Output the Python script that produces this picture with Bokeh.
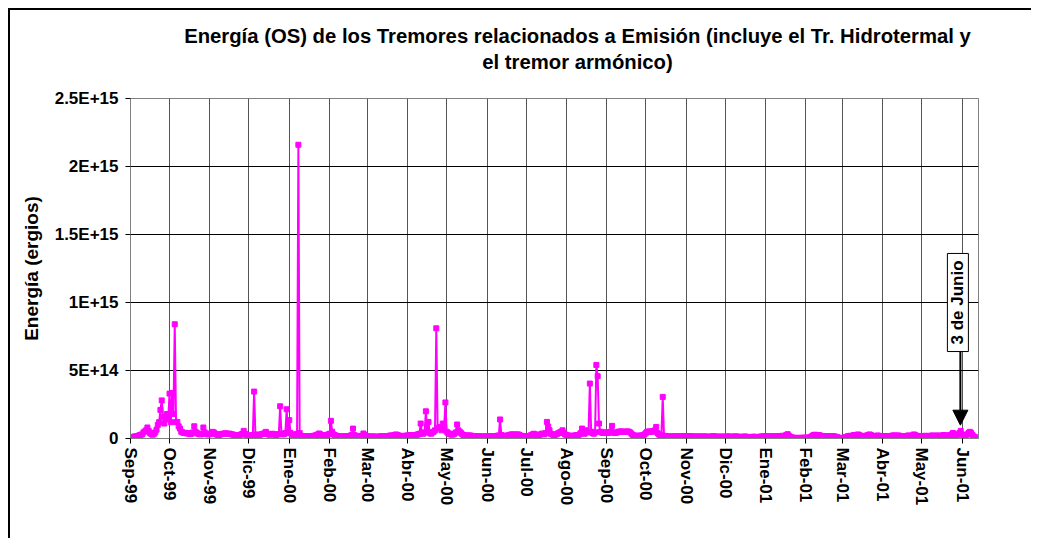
import pandas as pd
from bokeh.plotting import figure
from bokeh.layouts import column
from bokeh.models import Range1d, FixedTicker, Label, Arrow, NormalHead
from bokeh.embed import file_html
from bokeh.resources import INLINE

# ---------------- data (energy in units of 1E13 ergios, one value per day) ----------------
start_date = "1999-09-01"
sep_99 = [1.0, 1.2, 1.1, 1.4, 1.5, 1.8, 2.0, 2.4, 2.8, 3.0,
          4.5, 5.2, 6.0, 8.1, 5.5, 4.0, 3.2, 2.8, 3.5, 4.5,
          6.5, 10, 12, 21, 28, 16, 11, 14, 18, 15]
oct_99 = [33, 12, 33.5, 18, 84, 12, 12.2, 9, 7.3, 5,
          4.5, 4.0, 4.2, 3.8, 4.0, 3.5, 3.2, 3.6, 4.5, 9.0,
          5.0, 4.0, 3.5, 3.2, 3.0, 3.5, 8.1, 4.5, 3.5, 3.2, 3.0]
nov_99 = [3.2, 3.8, 4.9, 4.5, 3.5, 3.0, 2.8, 2.6, 3.0, 3.2,
          3.5, 3.6, 3.8, 3.5, 3.4, 3.6, 3.2, 3.0, 2.8, 2.5,
          2.2, 2.0, 2.2, 2.5, 3.0, 3.5, 5.6, 3.5, 2.5, 2.2]
dic_99 = [2.0, 2.2, 2.0, 2.5, 34.5, 3.0, 2.5, 2.2, 2.5, 3.0,
          3.2, 3.5, 3.8, 4.9, 3.5, 3.0, 2.8, 3.2, 3.5, 3.0,
          2.8, 2.5, 3.0, 3.2, 23.7, 3.5, 3.0, 3.2, 4.0, 21.5, 5.0]
ene_00 = [13.5, 4.0, 3.0, 2.5, 2.2, 2.5, 3.5, 216, 4.0, 2.0,
          1.5, 1.4, 1.5, 1.6, 1.5, 1.4, 1.5, 1.6, 1.8, 2.0,
          2.2, 2.5, 3.0, 3.7, 3.0, 2.5, 2.0, 1.8, 2.0, 2.5, 3.0]
feb_00 = [3.5, 13, 5.0, 3.0, 2.5, 2.0, 1.8, 1.6, 1.5, 1.5,
          1.6, 1.5, 1.4, 1.5, 1.6, 1.8, 2.0, 2.5, 7.3, 2.5,
          2.0, 1.8, 1.6, 1.5, 1.6, 2.0, 3.7, 2.5, 1.8]
mar_00 = [1.5, 1.4, 1.3, 1.4, 1.5, 1.4, 1.3, 1.2, 1.3, 1.4,
          1.5, 1.6, 1.5, 1.4, 1.5, 1.6, 1.8, 2.0, 2.2, 2.0,
          2.2, 2.5, 3.0, 2.5, 2.2, 2.0, 1.8, 1.6, 1.8, 2.0, 2.0]
abr_00 = [2.2, 2.2, 2.5, 2.2, 2.0, 2.2, 2.5, 2.8, 3.0, 3.5,
          11, 4.0, 3.5, 4.5, 20, 5.0, 12.2, 4.0, 3.5, 4.5,
          5.0, 6.0, 81, 7.3, 8.0, 8.5, 6.0, 11, 8.0, 26.5]
may_00 = [5.0, 4.0, 3.5, 3.0, 2.8, 3.0, 3.5, 4.5, 10.3, 6.0,
          5.0, 4.0, 3.0, 2.5, 2.2, 2.2, 2.0, 2.2, 2.2, 2.0,
          1.8, 1.6, 1.5, 1.5, 1.6, 1.5, 1.4, 1.5, 1.5, 1.4, 1.5]
jun_00 = [1.5, 1.4, 1.5, 1.6, 1.5, 1.4, 1.6, 1.8, 2.0, 2.2,
          14, 2.5, 2.0, 1.8, 1.8, 2.0, 2.2, 2.5, 2.8, 3.0,
          3.0, 2.8, 2.5, 3.0, 3.0, 2.5, 2.0, 1.8, 1.6, 1.5]
jul_00 = [1.5, 1.6, 1.8, 2.0, 2.5, 3.0, 3.5, 3.0, 2.5, 2.2,
          2.5, 3.0, 3.5, 3.5, 3.0, 4.0, 12.2, 8.8, 6.0, 3.5,
          3.0, 2.5, 2.5, 3.0, 3.5, 4.0, 4.5, 5.0, 6.0, 4.0, 3.0]
ago_00 = [2.5, 2.2, 2.0, 2.0, 1.8, 2.0, 2.0, 2.2, 2.5, 2.5,
          3.0, 4.0, 7.3, 4.0, 3.5, 6.0, 5.0, 4.5, 40.4, 5.0,
          4.0, 3.5, 4.5, 54.1, 45.8, 11, 5.0, 4.5, 4.0, 4.2, 4.5]
sep_00 = [4.5, 4.0, 4.5, 5.0, 9.3, 4.5, 4.0, 4.2, 4.5, 5.0,
          5.0, 5.2, 5.0, 5.0, 4.8, 5.0, 5.2, 5.0, 4.5, 3.5,
          2.5, 2.2, 2.0, 2.0, 1.8, 2.0, 2.2, 2.0, 2.5, 3.0]
oct_00 = [4.0, 5.0, 5.0, 5.2, 5.0, 5.0, 5.5, 6.0, 8.5, 4.0,
          3.0, 2.5, 2.0, 30.6, 2.0, 1.8, 1.6, 1.5, 1.5, 1.4,
          1.5, 1.4, 1.5, 1.6, 1.5, 1.4, 1.5, 1.5, 1.6, 1.5, 1.5]
nov_00 = [1.6, 1.8, 1.8, 1.6, 1.5, 1.4, 1.5, 1.4, 1.3, 1.4,
          1.5, 1.4, 1.3, 1.4, 1.5, 1.4, 1.3, 1.2, 1.3, 1.4,
          1.5, 1.6, 1.5, 1.4, 1.3, 1.2, 1.3, 1.4, 1.3, 1.2]
dic_00 = [1.3, 1.4, 1.5, 1.4, 1.3, 1.2, 1.3, 1.4, 1.5, 1.4,
          1.3, 1.2, 1.1, 1.2, 1.3, 1.4, 1.3, 1.2, 1.1, 1.0,
          1.1, 1.2, 1.3, 1.2, 1.1, 1.0, 1.2, 1.3, 1.4, 1.5, 1.6]
ene_01 = [1.5, 1.6, 1.5, 1.4, 1.5, 1.6, 1.5, 1.4, 1.5, 1.6,
          1.5, 1.6, 1.8, 2.0, 1.8, 2.0, 2.5, 3.2, 2.0, 1.2,
          0.8, 0.6, 0.5, 0.4, 0.4, 0.5, 0.4, 0.4, 0.5, 0.5, 0.6]
feb_01 = [0.5, 0.5, 0.6, 0.8, 1.2, 2.0, 2.5, 2.8, 2.5, 2.4,
          2.5, 2.2, 1.8, 1.6, 1.5, 1.6, 1.8, 1.6, 1.5, 1.6,
          1.8, 1.6, 1.5, 1.3, 1.0, 0.6, 0.4, 0.3]
mar_01 = [0.3, 0.4, 0.8, 1.2, 1.5, 1.8, 2.0, 1.8, 2.0, 2.5,
          2.5, 2.2, 3.0, 2.5, 2.0, 1.8, 1.6, 1.8, 2.0, 2.2,
          2.5, 3.0, 2.5, 2.0, 1.8, 1.6, 1.8, 2.2, 2.0, 1.8, 1.6]
abr_01 = [1.5, 1.6, 1.8, 1.6, 1.5, 1.6, 1.8, 2.0, 2.2, 2.2,
          2.0, 2.0, 2.2, 2.0, 1.8, 1.6, 1.5, 1.6, 1.8, 2.0,
          2.2, 2.0, 1.8, 2.2, 3.0, 2.5, 2.0, 1.8, 1.6, 1.5]
may_01 = [1.5, 1.6, 1.8, 2.0, 1.8, 1.6, 1.8, 2.0, 2.2, 2.0,
          1.8, 2.0, 2.2, 2.0, 1.8, 2.0, 2.2, 2.5, 2.2, 2.0,
          2.0, 2.2, 2.5, 3.0, 4.1, 2.5, 2.0, 2.5, 3.0, 4.0, 5.6]
jun_01 = [3.0, 2.5, 2.0, 2.5, 3.0, 4.0, 4.9, 4.0, 2.5, 1.5, 1.0]

energy_1e13 = (sep_99 + oct_99 + nov_99 + dic_99 + ene_00 + feb_00 + mar_00 + abr_00 +
               may_00 + jun_00 + jul_00 + ago_00 + sep_00 + oct_00 + nov_00 + dic_00 +
               ene_01 + feb_01 + mar_01 + abr_01 + may_01 + jun_01)

month_labels = ["Sep-99", "Oct-99", "Nov-99", "Dic-99", "Ene-00", "Feb-00", "Mar-00",
                "Abr-00", "May-00", "Jun-00", "Jul-00", "Ago-00", "Sep-00", "Oct-00",
                "Nov-00", "Dic-00", "Ene-01", "Feb-01", "Mar-01", "Abr-01", "May-01",
                "Jun-01"]
y_tick_values = [0, 50, 100, 150, 200, 250]          # in units of 1E13
y_tick_labels = ["0", "5E+14", "1E+15", "1.5E+15", "2E+15", "2.5E+15"]

title_lines = ["Energía (OS) de los Tremores relacionados a Emisión (incluye el Tr. Hidrotermal y",
               "el tremor armónico)"]
y_title = "Energía (ergios)"
note_text = "3 de Junio"

# ---------------- derived positions ----------------
t0 = pd.Timestamp(start_date)
dates = pd.date_range(start_date, periods=len(energy_1e13), freq="D")
day_index = [(d - t0).days for d in dates]
month_starts = pd.date_range(start_date, periods=len(month_labels), freq="MS")
tick_days = [(d - t0).days for d in month_starts]
x_end = (pd.Timestamp("2001-06-13 16:00") - t0).total_seconds() / 86400.0
arrow_x = (pd.Timestamp("2001-05-30 18:00") - t0).total_seconds() / 86400.0
note_x = (pd.Timestamp("2001-05-28 20:00") - t0).total_seconds() / 86400.0

FONT = "Liberation Sans"
MAGENTA = "#FF00FF"
W = 1021
BORDER_L, BORDER_R = 120, 53
TITLE_H = 75
PLOT_H = 528 - TITLE_H

# ---------------- title strip (its frame is aligned with the chart frame) ----------------
tfig = figure(width=W, height=TITLE_H, output_backend="svg", toolbar_location=None,
              x_range=Range1d(BORDER_L, W - BORDER_R), y_range=Range1d(0, TITLE_H),
              x_axis_type=None, y_axis_type=None, min_border=0,
              min_border_left=BORDER_L, min_border_right=BORDER_R)
tfig.outline_line_color = None
tfig.grid.visible = False
tfig.background_fill_color = "white"
tfig.border_fill_color = "white"
for txt, ypos in zip(title_lines, (TITLE_H - 25, TITLE_H - 51)):
    tfig.add_layout(Label(x=567, y=ypos, text=txt, text_font=FONT, text_font_style="bold",
                          text_font_size="20.3px", text_align="center",
                          text_baseline="middle", text_color="#000000"))

# ---------------- main chart ----------------
p = figure(width=W, height=PLOT_H, output_backend="svg", toolbar_location=None, title=None,
           x_range=Range1d(0, x_end), y_range=Range1d(0, 250),
           min_border_left=BORDER_L, min_border_right=BORDER_R, min_border_top=88 - TITLE_H,
           min_border_bottom=100)
p.background_fill_color = "white"
p.border_fill_color = "white"
p.outline_line_color = "#808080"
p.outline_line_width = 1

p.line(day_index, energy_1e13, line_color=MAGENTA, line_width=2)
p.scatter(day_index, energy_1e13, marker="square", size=5,
          fill_color=MAGENTA, line_color=MAGENTA)

p.xaxis.ticker = FixedTicker(ticks=tick_days)
p.xgrid.ticker = FixedTicker(ticks=tick_days)
p.xaxis.major_label_overrides = {d: lab for d, lab in zip(tick_days, month_labels)}
p.xaxis.major_label_orientation = "vertical"
p.yaxis.ticker = FixedTicker(ticks=y_tick_values)
p.ygrid.ticker = FixedTicker(ticks=y_tick_values)
p.yaxis.major_label_overrides = {v: lab for v, lab in zip(y_tick_values, y_tick_labels)}

for ax in (p.xaxis[0], p.yaxis[0]):
    ax.axis_line_color = "#808080"
    ax.major_tick_line_color = "#000000"
    ax.major_tick_out = 5
    ax.major_tick_in = 0
    ax.minor_tick_out = 0
    ax.minor_tick_in = 0
    ax.major_label_text_font = FONT
    ax.major_label_text_font_style = "bold"
    ax.major_label_text_font_size = "17px"
    ax.major_label_text_color = "#000000"
p.xaxis.major_label_standoff = 4
p.yaxis.major_label_standoff = 7

p.yaxis.axis_label = y_title
p.yaxis.axis_label_text_font = FONT
p.yaxis.axis_label_text_font_style = "bold"
p.yaxis.axis_label_text_font_size = "19px"
p.yaxis.axis_label_text_color = "#000000"
p.yaxis.axis_label_standoff = 10

p.xgrid.grid_line_color = "#555555"
p.xgrid.grid_line_width = 1
p.ygrid.grid_line_color = "#000000"
p.ygrid.grid_line_width = 1

# annotation: "3 de Junio" with arrow
p.add_layout(Arrow(x_start=arrow_x, y_start=64.2, x_end=arrow_x, y_end=9.8,
                   line_color="black", line_width=2,
                   end=NormalHead(size=15, fill_color="black", line_color="black")))
p.add_layout(Label(x=note_x, y=100, text=note_text, angle=90, angle_units="deg",
                   text_font=FONT, text_font_style="bold", text_font_size="17px",
                   text_align="center", text_baseline="middle", text_color="#000000",
                   background_fill_color="white", border_line_color="black",
                   border_line_width=1, padding=dict(left=7, right=7, top=1, bottom=1)))

layout = column(tfig, p, spacing=0)
layout.styles = {"margin-left": "8px", "margin-top": "8px",
                 "border-left": "2px solid #000000", "border-top": "2px solid #000000"}

open("out.html", "w").write(file_html(layout, INLINE))
